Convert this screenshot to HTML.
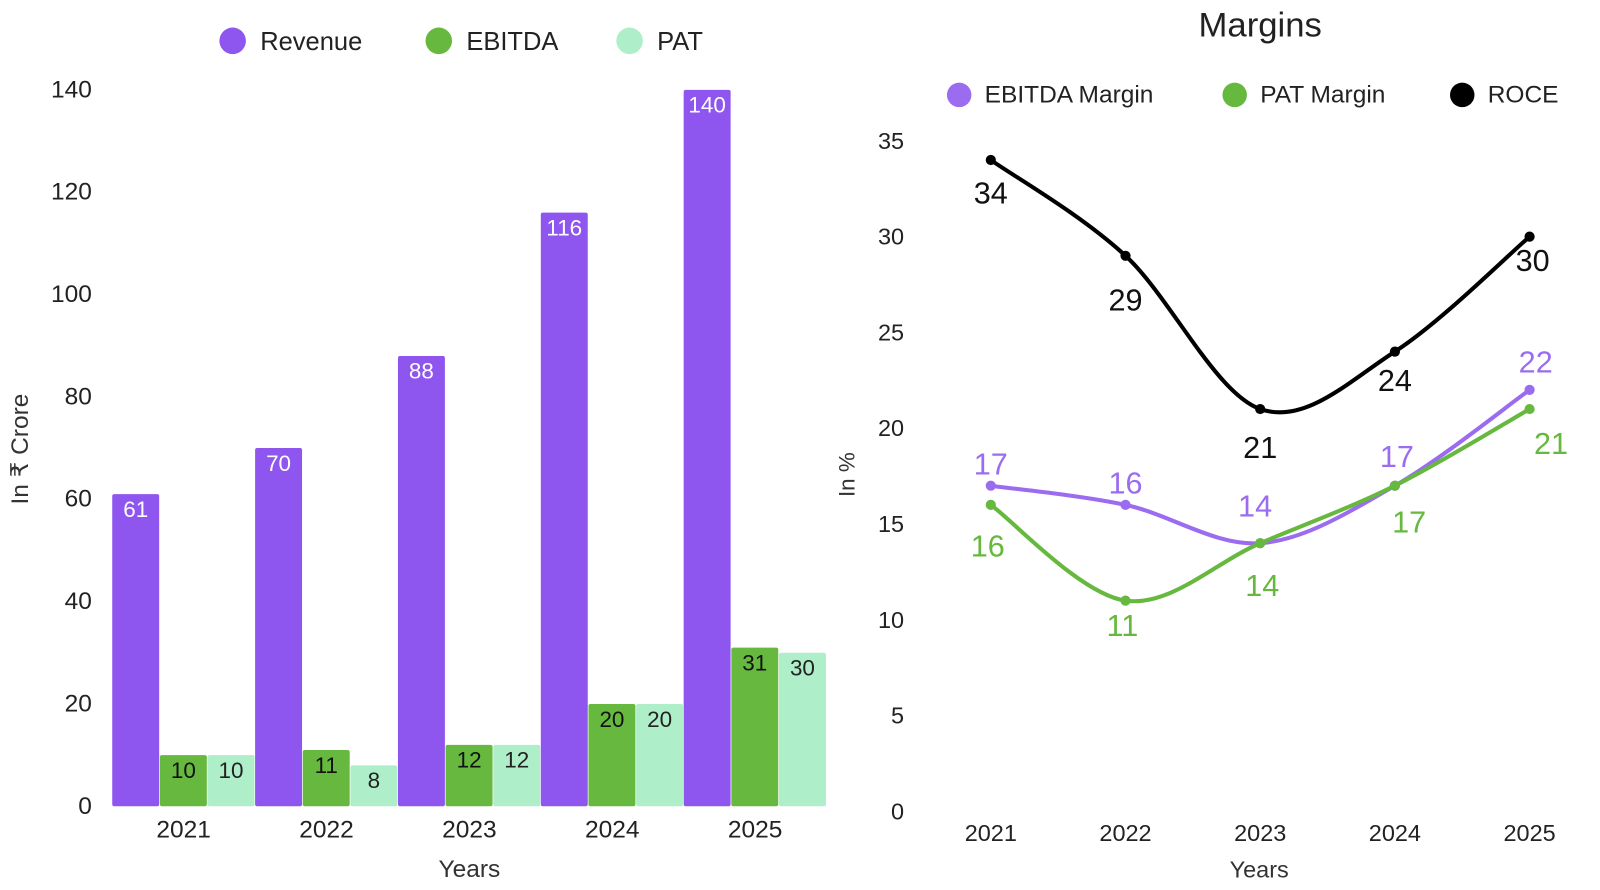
<!DOCTYPE html>
<html><head><meta charset="utf-8"><style>
body{margin:0;background:#fff;}
svg{display:block;}
svg text{font-family:"Liberation Sans",sans-serif;}
</style></head><body>
<svg id="c" width="1600" height="890" viewBox="0 0 1568 872" preserveAspectRatio="none" xmlns="http://www.w3.org/2000/svg"></svg>
<script>
const years=["2021","2022","2023","2024","2025"];
const revenue=[61,70,88,116,140];
const ebitda=[10,11,12,20,31];
const pat=[10,8,12,20,30];
const leftTicks=[0,20,40,60,80,100,120,140];
const ebitdaMargin=[17,16,14,17,22];
const patMargin=[16,11,14,17,21];
const roce=[34,29,21,24,30];
const rightTicks=[0,5,10,15,20,25,30,35];

const NS="http://www.w3.org/2000/svg";
const svg=document.getElementById('c');
function el(tag,attrs,parent,txt){const e=document.createElementNS(NS,tag);for(const k in attrs)e.setAttribute(k,attrs[k]);if(txt!==undefined)e.textContent=txt;(parent||svg).appendChild(e);return e;}

// LEFT
const yL=v=>790-v*(702/140);
const xL=i=>180+i*140;
const left=el('g',{});


leftTicks.forEach(t=>{const e=el('text',{x:90,y:yL(t),'text-anchor':'end','dominant-baseline':'central','font-size':24,fill:'#222'},left,t);
});
const series=[[revenue,'#8e55ef','#fff','revenue'],[ebitda,'#66b83e','#111','ebitda'],[pat,'#aeeec8','#222','pat']];
years.forEach((y,i)=>{
 series.forEach((s,j)=>{
  const x=xL(i)-70+j*46.7, v=s[0][i];
  const r=el('rect',{x:x,y:yL(v),width:46,height:790-yL(v),fill:s[1],rx:2},left);
  
  const t=el('text',{x:x+23,y:yL(v)+15,'text-anchor':'middle','dominant-baseline':'central','font-size':22,fill:s[2]},left,v);
  
 });
 const t=el('text',{x:xL(i),y:813,'text-anchor':'middle','dominant-baseline':'central','font-size':24,fill:'#222'},left,y);
 
});
let t=el('text',{x:460,y:852,'text-anchor':'middle','dominant-baseline':'central','font-size':24,fill:'#333'},left,'Years');

t=el('text',{x:20,y:440,'text-anchor':'middle','dominant-baseline':'central','font-size':24,fill:'#333',transform:'rotate(-90 20 440)'},left,'In ₹ Crore');

[['Revenue','#8e55ef',228],['EBITDA','#66b83e',430],['PAT','#aeeec8',617]].forEach(l=>{
 const g=el('g',{},left);
 el('circle',{cx:l[2],cy:40,r:13,fill:l[1]},g);
 el('text',{x:l[2]+27,y:41,'dominant-baseline':'central','font-size':25,fill:'#222'},g,l[0]);
});

// RIGHT
const yR=v=>795-v*(657/35);
const xR=i=>971+i*132;
const right=el('g',{});


t=el('text',{x:1235,y:25,'text-anchor':'middle','dominant-baseline':'central','font-size':34,fill:'#222'},right,'Margins');

rightTicks.forEach(v=>{const e=el('text',{x:886,y:yR(v),'text-anchor':'end','dominant-baseline':'central','font-size':23,fill:'#222'},right,v);
});
years.forEach((y,i)=>{const e=el('text',{x:xR(i),y:816,'text-anchor':'middle','dominant-baseline':'central','font-size':23,fill:'#222'},right,y);
});
t=el('text',{x:1234,y:852,'text-anchor':'middle','dominant-baseline':'central','font-size':23,fill:'#333'},right,'Years');

t=el('text',{x:830,y:465,'text-anchor':'middle','dominant-baseline':'central','font-size':22,fill:'#333',transform:'rotate(-90 830 465)'},right,'In %');


function curve(pts){let d='M'+pts[0][0]+','+pts[0][1];
 for(let i=0;i<pts.length-1;i++){const p0=pts[Math.max(0,i-1)],p1=pts[i],p2=pts[i+1],p3=pts[Math.min(pts.length-1,i+2)];
  const c1=[p1[0]+(p2[0]-p0[0])/6,p1[1]+(p2[1]-p0[1])/6],c2=[p2[0]-(p3[0]-p1[0])/6,p2[1]-(p3[1]-p1[1])/6];
  d+=' C'+c1+' '+c2+' '+p2;}
 return d;}
const lines=[
 [roce,'#000','#111','roce',[33,44,38,29,24],[0,0,0,0,3]],
 [ebitdaMargin,'#9b6cf0','#9b6cf0','ebitda-margin',[-21,-21,-36,-28,-27],[0,0,-5,2,6]],
 [patMargin,'#66b83e','#66b83e','pat-margin',[41,25,42,36,34],[-3,-3,2,14,21]]];
lines.forEach(L=>{
 const pts=L[0].map((v,i)=>[xR(i),yR(v)]);
 const p=el('path',{d:curve(pts),fill:'none',stroke:L[1],'stroke-width':4},right);
 
 pts.forEach((q,i)=>{
  const c=el('circle',{cx:q[0],cy:q[1],r:5,fill:L[1]},right);
  
  const tx=el('text',{x:q[0]+L[5][i],y:q[1]+L[4][i],'text-anchor':'middle','dominant-baseline':'central','font-size':30,fill:L[2]},right,L[0][i]);
  
 });
});
[['EBITDA Margin','#9b6cf0',940],['PAT Margin','#66b83e',1210],['ROCE','#000',1433]].forEach(l=>{
 const g=el('g',{},right);
 el('circle',{cx:l[2],cy:93,r:12,fill:l[1]},g);
 el('text',{x:l[2]+25,y:93,'dominant-baseline':'central','font-size':24,fill:'#222'},g,l[0]);
});
</script>
</body></html>
